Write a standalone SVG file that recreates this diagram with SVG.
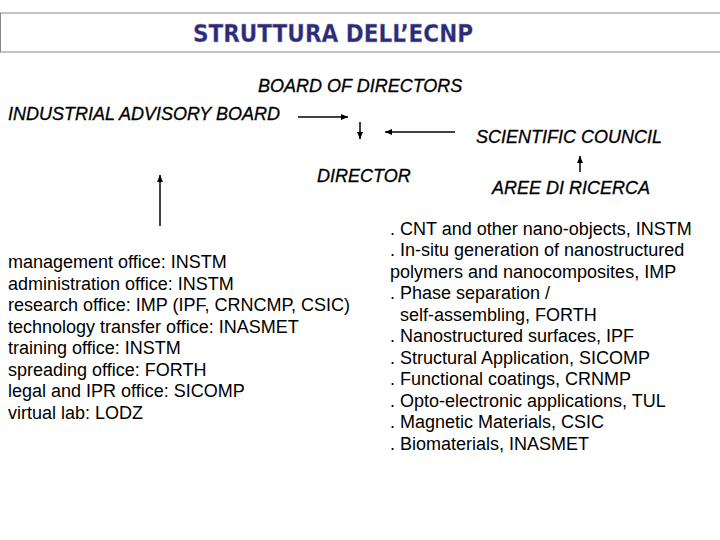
<svg xmlns="http://www.w3.org/2000/svg" width="720" height="540" viewBox="0 0 720 540">
<style>
.l{font-family:"Liberation Sans",Arial,sans-serif;font-size:18px;font-style:italic;fill:#000;stroke:#000;stroke-width:0.3}
.t{font-family:"Liberation Sans",Arial,sans-serif;font-size:18px;fill:#000}
.c line{stroke:#000;stroke-width:1.5}
</style>
<defs><marker id="a" markerWidth="8" markerHeight="8" refX="7" refY="4" orient="auto" markerUnits="userSpaceOnUse"><path d="M0,1 L7,4 L0,7 Z" fill="#000"/></marker></defs>
<rect width="720" height="540" fill="#fff"/>
<g id="title"><rect x="0.5" y="13" width="730" height="39" fill="#fff" stroke="#888" stroke-width="1"/>
<text x="333" y="42" text-anchor="middle" font-family="DejaVu Sans Condensed,'DejaVu Sans',sans-serif" font-weight="bold" font-size="24" fill="#2b2b7a" stroke="#b0b0c8" stroke-width="0.3">STRUTTURA DELL’ECNP</text></g>
<g id="board"><text class="l" x="258" y="92">BOARD OF DIRECTORS</text></g>
<g id="iab"><text class="l" x="8" y="120">INDUSTRIAL ADVISORY BOARD</text></g>
<g id="sc"><text class="l" x="476" y="143">SCIENTIFIC COUNCIL</text></g>
<g id="director"><text class="l" x="317" y="182">DIRECTOR</text></g>
<g id="aree"><text class="l" x="492" y="194">AREE DI RICERCA</text></g>
<g id="offices"><text class="t" x="8" y="268">management office: INSTM</text>
<text class="t" x="8" y="290">administration office: INSTM</text>
<text class="t" x="8" y="311">research office: IMP (IPF, CRNCMP, CSIC)</text>
<text class="t" x="8" y="333">technology transfer office: INASMET</text>
<text class="t" x="8" y="354">training office: INSTM</text>
<text class="t" x="8" y="376">spreading office: FORTH</text>
<text class="t" x="8" y="397">legal and IPR office: SICOMP</text>
<text class="t" x="8" y="419">virtual lab: LODZ</text></g>
<g id="areas"><text class="t" x="390" y="235">. CNT and other nano-objects, INSTM</text>
<text class="t" x="390" y="256">. In-situ generation of nanostructured</text>
<text class="t" x="390" y="278">polymers and nanocomposites, IMP</text>
<text class="t" x="390" y="299">. Phase separation /</text>
<text class="t" x="400" y="321">self-assembling, FORTH</text>
<text class="t" x="390" y="342">. Nanostructured surfaces, IPF</text>
<text class="t" x="390" y="364">. Structural Application, SICOMP</text>
<text class="t" x="390" y="385">. Functional coatings, CRNMP</text>
<text class="t" x="390" y="407">. Opto-electronic applications, TUL</text>
<text class="t" x="390" y="428">. Magnetic Materials, CSIC</text>
<text class="t" x="390" y="450">. Biomaterials, INASMET</text></g>
<g class="c" id="connectors">
<line x1="298" y1="117" x2="348" y2="117" marker-end="url(#a)"/>
<line x1="360" y1="122" x2="360" y2="139" marker-end="url(#a)"/>
<line x1="455" y1="132" x2="385" y2="132" marker-end="url(#a)"/>
<line x1="580" y1="172" x2="580" y2="156" marker-end="url(#a)"/>
<line x1="160" y1="226" x2="160" y2="175" marker-end="url(#a)"/>
</g>
</svg>
